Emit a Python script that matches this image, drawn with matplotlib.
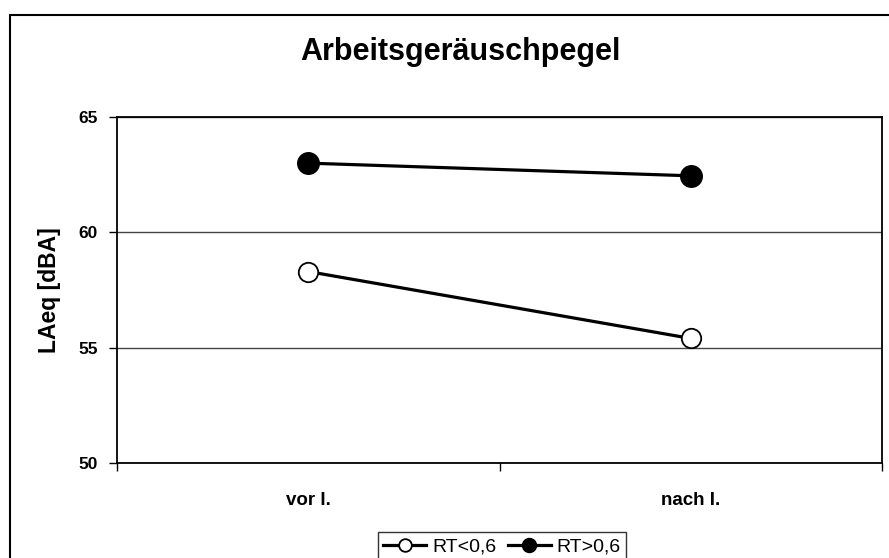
import matplotlib
matplotlib.use("Agg")
import matplotlib.pyplot as plt
from matplotlib.patches import Rectangle

# Messwerte LAeq vor/nach der Intervention
kategorien = ["vor I.", "nach I."]
rt_klein = [58.3, 55.4]   # RT<0,6
rt_gross = [63.0, 62.45]  # RT>0,6
y_ticks = [50, 55, 60, 65]

plt.rcParams["font.family"] = ["Liberation Sans", "DejaVu Sans"]

W, H = 889, 558
fig = plt.figure(figsize=(W / 100, H / 100), dpi=100)

# Rahmen um das gesamte Diagramm (rechts/unten abgeschnitten)
fig.patches.append(Rectangle((10 / W, -0.1), 1.2, 1 - 15 / H + 0.1,
                             transform=fig.transFigure, fill=False,
                             edgecolor="black", linewidth=1.5))

ax = fig.add_axes([117 / W, 1 - 463 / H, (882 - 117) / W, (463 - 117) / H])

x = [0.5, 1.5]
ax.plot(x, rt_klein, color="black", lw=2.3, marker="o", ms=14,
        mfc="white", mec="black", mew=1.3, label="RT<0,6", zorder=3)
ax.plot(x, rt_gross, color="black", lw=2.3, marker="o", ms=15.5,
        mfc="black", mec="black", label="RT>0,6", zorder=3)

ax.set_xlim(0, 2)
ax.set_ylim(50, 65)
ax.set_yticks(y_ticks)
ax.set_yticklabels([str(v) for v in y_ticks], fontsize=12.5, fontweight="bold")
ax.set_xticks([0, 1, 2])
ax.set_xticklabels([])
ax.set_xticks(x, minor=True)
ax.set_xticklabels(kategorien, minor=True, fontsize=13.5, fontweight="bold")
ax.tick_params(axis="x", which="major", direction="out", length=6, width=1)
ax.tick_params(axis="x", which="minor", length=0, pad=21)
ax.tick_params(axis="y", direction="out", length=6, width=1, pad=8)

ax.yaxis.grid(True, color="#444444", lw=1)
ax.set_axisbelow(True)
for s in ax.spines.values():
    s.set_linewidth(1.3)

ax.set_ylabel("LAeq [dBA]", fontsize=16.5, fontweight="bold", labelpad=12)
fig.text(460 / W, 1 - 52 / H, "Arbeitsgeräuschpegel", ha="center", va="center",
         fontsize=22, fontweight="bold")

leg = fig.legend(loc="upper center", bbox_to_anchor=(502 / W, 1 - 532 / H),
                 ncol=2, frameon=True, fancybox=False, edgecolor="black",
                 fontsize=14, markerscale=0.65, handlelength=2.2,
                 handletextpad=0.3, columnspacing=0.6, borderpad=0.3,
                 borderaxespad=0)
leg.get_frame().set_linewidth(1)

fig.savefig("out.png", dpi=100)
